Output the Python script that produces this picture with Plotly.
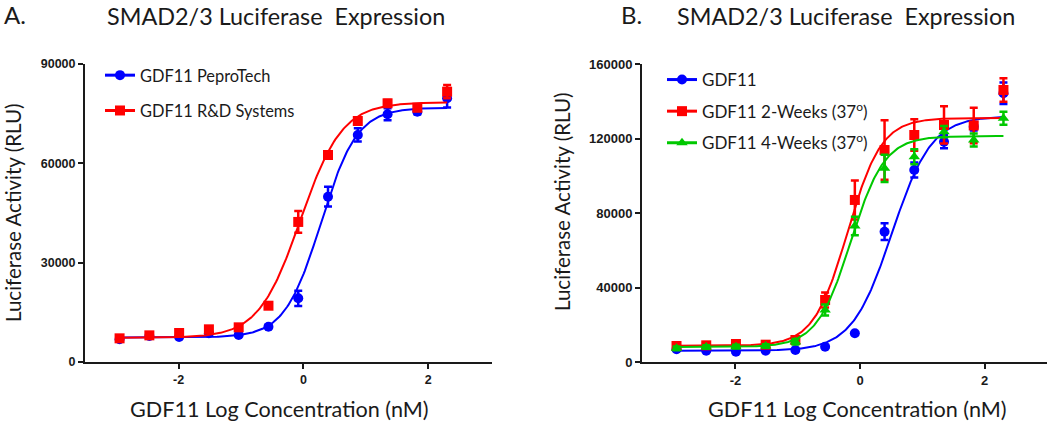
import numpy as np
import plotly.graph_objects as go

# ---------------- data ----------------
log_conc = [-2.946, -2.469, -1.992, -1.515, -1.038, -0.561, -0.084, 0.393, 0.870, 1.347, 1.824, 2.301]

# Panel A
a_pepro = [6860, 7850, 7550, 8660, 8150, 10660, 19240, 49930, 68560, 74800, 75600, 79640]
a_pepro_err = [400, 400, 400, 400, 400, 500, 2300, 3000, 2000, 1800, 800, 2800]
a_rnd = [7150, 8050, 8760, 9870, 10470, 17000, 42300, 62520, 72790, 78130, 76800, 81640]
a_rnd_err = [500, 500, 500, 600, 500, 800, 3300, 900, 900, 1000, 1000, 2000]

# Panel B
b_gdf = [6820, 6070, 5530, 6070, 6440, 8210, 15410, 69960, 103100, 118280, 126360, 144270]
b_gdf_err = [500, 500, 500, 500, 500, 500, 0, 4500, 4000, 3500, 2000, 5800]
b_2wk = [8590, 8950, 9660, 9300, 11810, 33290, 87000, 113830, 121880, 127250, 127000, 146040]
b_2wk_err = [1000, 1000, 1500, 1500, 2000, 4000, 10500, 16000, 8500, 10000, 9500, 6300]
b_4wk = [7340, 8050, 8230, 8590, 10900, 27920, 73000, 104000, 110230, 123670, 119200, 130870]
b_4wk_err = [1000, 1000, 1000, 1000, 1500, 3000, 5000, 7300, 4000, 3000, 3500, 3500]

# 4PL fit parameters: bottom, top, logEC50, hill
fit_a_pepro = [7400, 76800, 0.28, 1.5]
fit_a_rnd = [7300, 78400, -0.05, 1.3]
fit_b_gdf = [6000, 132000, 0.51, 1.36]
fit_b_2wk = [8700, 131000, -0.20, 1.6]
fit_b_4wk = [8000, 121300, -0.15, 1.6]

names_a = ["GDF11 PeproTech", "GDF11 R&D Systems"]
names_b = ["GDF11", "GDF11 2-Weeks (37<sup>o</sup>)", "GDF11 4-Weeks (37<sup>o</sup>)"]
title_text = "SMAD2/3 Luciferase  Expression"
xtitle = "GDF11 Log Concentration (nM)"
ytitle = "Luciferase Activity (RLU)"
a_yticks = [0, 30000, 60000, 90000]
b_yticks = [0, 40000, 80000, 120000, 160000]
xticks = [-2, 0, 2]

BLUE, RED, GREEN = "#0000FF", "#FF0000", "#00C800"
TXT = "Lato"
TICKF = "Liberation Sans"
INK = "#1a1a1a"

W, H = 1050, 422


def px(x):
    return x / W


def py(y):
    return 1 - y / H


def four_pl(x, p):
    b, t, c, h = p
    return b + (t - b) / (1 + 10 ** ((c - x) * h))


xs = np.linspace(min(log_conc), max(log_conc), 300)

fig = go.Figure()


def add_series(y, err, fit, color, symbol, size, xa, ya, legend, name):
    fig.add_trace(go.Scatter(x=xs, y=four_pl(xs, fit), mode="lines",
                             line=dict(color=color, width=2), xaxis=xa, yaxis=ya,
                             showlegend=False, hoverinfo="skip"))
    fig.add_trace(go.Scatter(x=log_conc, y=y, mode="markers",
                             marker=dict(color=color, symbol=symbol, size=size),
                             error_y=dict(type="data", array=err, color=color, thickness=2.5, width=4),
                             xaxis=xa, yaxis=ya, showlegend=False, name=name))
    # legend entry
    fig.add_trace(go.Scatter(x=[None], y=[None], mode="lines+markers",
                             marker=dict(color=color, symbol=symbol, size=size),
                             line=dict(color=color, width=3),
                             xaxis=xa, yaxis=ya, legend=legend, legendgroup=name, name=name))


add_series(a_pepro, a_pepro_err, fit_a_pepro, BLUE, "circle", 10, "x", "y", "legend", names_a[0])
add_series(a_rnd, a_rnd_err, fit_a_rnd, RED, "square", 10, "x", "y", "legend", names_a[1])
add_series(b_gdf, b_gdf_err, fit_b_gdf, BLUE, "circle", 10, "x2", "y2", "legend2", names_b[0])
add_series(b_2wk, b_2wk_err, fit_b_2wk, RED, "square", 10, "x2", "y2", "legend2", names_b[1])
add_series(b_4wk, b_4wk_err, fit_b_4wk, GREEN, "triangle-up", 10, "x2", "y2", "legend2", names_b[2])


def axis_common(fs):
    return dict(showline=True, linecolor=INK, linewidth=2, ticks="outside",
                ticklen=5, tickwidth=2, tickcolor=INK, showgrid=False, zeroline=False,
                automargin=False,
                tickfont=dict(family=TICKF, size=fs, color=INK, weight="bold"))


ydom = [py(362), py(64)]

fig.update_layout(
    width=W, height=H,
    margin=dict(l=0, r=0, t=0, b=0, autoexpand=False),
    paper_bgcolor="white", plot_bgcolor="white",
    xaxis=dict(domain=[px(85), px(492)], range=[-3.5, 3.02], tickvals=xticks,
               ticktext=[str(v) for v in xticks], anchor="y", **axis_common(12.5)),
    yaxis=dict(domain=ydom, range=[0, 90000], tickvals=a_yticks,
               ticktext=[str(v) for v in a_yticks], anchor="x", **axis_common(12.5)),
    xaxis2=dict(domain=[px(642), px(1047)], range=[-3.5, 3.0], tickvals=xticks,
                ticktext=[str(v) for v in xticks], anchor="y2", **axis_common(13)),
    yaxis2=dict(domain=ydom, range=[0, 160000], tickvals=b_yticks,
                ticktext=[str(v) for v in b_yticks], anchor="x2", **axis_common(13)),
    legend=dict(x=px(100), y=py(58), xanchor="left", yanchor="top",
                font=dict(family=TXT, size=16.4, color=INK), tracegroupgap=11,
                itemwidth=30, bgcolor="rgba(0,0,0,0)"),
    legend2=dict(x=px(662), y=py(62), xanchor="left", yanchor="top",
                 font=dict(family=TXT, size=17, color=INK), tracegroupgap=6.5,
                 itemwidth=30, bgcolor="rgba(0,0,0,0)"),
)

for txt, x in (("A.", 3), ("B.", 620)):
    fig.add_annotation(text=txt, x=px(x), y=py(15), xref="paper", yref="paper",
                       showarrow=False, xanchor="left", yanchor="middle", borderpad=0,
                       font=dict(family=TXT, size=24, color=INK))

for cx in (276, 846):
    fig.add_annotation(text=title_text, x=px(cx), y=py(16), xref="paper", yref="paper",
                       showarrow=False, xanchor="center", yanchor="middle", borderpad=0,
                       font=dict(family=TXT, size=23.4, color=INK))
for cx in (279, 857):
    fig.add_annotation(text=xtitle, x=px(cx), y=py(409), xref="paper", yref="paper",
                       showarrow=False, xanchor="center", yanchor="middle",
                       font=dict(family=TXT, size=21.6, color=INK))
for cx, cy in ((13, 213), (562, 202)):
    fig.add_annotation(text=ytitle, x=px(cx), y=py(cy), xref="paper", yref="paper",
                       showarrow=False, xanchor="center", yanchor="middle", textangle=-90,
                       font=dict(family=TXT, size=20.5, color=INK))

# the page's default 8px body margin would push the 1050x422 figure off the window
fig.write_html("out.html", config=dict(displayModeBar=False),
               post_script="document.body.style.margin='0';")
